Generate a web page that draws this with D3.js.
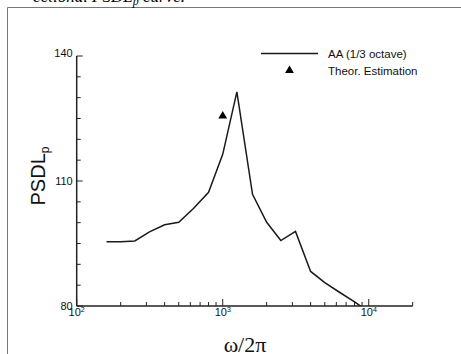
<!DOCTYPE html>
<html>
<head>
<meta charset="utf-8">
<script src="https://cdn.jsdelivr.net/npm/d3@7"></script>
<style>
  body { margin: 0; background: #fff; }
  svg { display: block; }
</style>
</head>
<body>
<div class="canvas"></div>
<script>
// 1/3 octave band centre frequencies and PSDL levels
const freqs = [160, 200, 250, 315, 400, 500, 630, 800, 1000, 1250, 1600, 2000, 2500, 3150, 4000, 5000, 6300, 8000, 10000];
const levels = [95.4, 95.4, 95.6, 97.8, 99.5, 100.1, 103.4, 107.3, 116.4, 131.4, 106.8, 100.1, 95.7, 97.9, 88.3, 85.6, 83.3, 81.0, 78.6];

// theoretical estimate
const theorFreq = [1000];
const theorLevel = [125.6];

const yTicks = [80, 110, 140];
const xTicks = [100, 1000, 10000];

const dims = { width: 461, height: 354 };

// plot box in pixels
const plot = { left: 76.7, right: 412.7, top: 56, bottom: 306 };

const svg = d3.select('.canvas')
    .append('svg')
    .attr('width', dims.width)
    .attr('height', dims.height);

// page frame + clipped caption from the paper above
svg.append('path')
    .attr('d', `M7.5,${dims.height} V7.5 H${dims.width}`)
    .attr('fill', 'none')
    .attr('stroke', '#777')
    .attr('stroke-width', 1);

const cap = svg.append('text')
    .attr('x', 185).attr('y', 2)
    .attr('text-anchor', 'end')
    .attr('font-family', 'Liberation Serif, serif')
    .attr('font-style', 'italic')
    .attr('font-size', 17)
    .attr('fill', '#000');
cap.append('tspan').text('ectional PSDL');
cap.append('tspan').attr('font-size', 12).attr('dy', 3).text('p');
cap.append('tspan').attr('dy', -3).text(' curve.');

// scales
const x = d3.scaleLog().domain([100, 20000]).range([plot.left, plot.right]);
const y = d3.scaleLinear().domain([80, 140]).range([plot.bottom, plot.top]);

const axisColor = '#222';

// y axis, ticks pointing inward
const yAxis = svg.append('g').attr('transform', `translate(${plot.left},0)`);
yAxis.append('line')
    .attr('y1', plot.top).attr('y2', plot.bottom)
    .attr('stroke', axisColor).attr('stroke-width', 1.5);
yAxis.selectAll('line.minor')
    .data(d3.range(80, 141, 5))
    .enter().append('line')
    .attr('class', 'minor')
    .attr('x1', 0)
    .attr('x2', d => yTicks.includes(d) ? 6 : 4)
    .attr('y1', d => y(d)).attr('y2', d => y(d))
    .attr('stroke', axisColor).attr('stroke-width', 1);
yAxis.selectAll('text')
    .data(yTicks)
    .enter().append('text')
    .attr('x', -4)
    .attr('y', d => y(d))
    .attr('dy', d => d === 140 ? '0.1em' : '0.35em')
    .attr('text-anchor', 'end')
    .attr('font-family', 'Liberation Sans, Arial, sans-serif')
    .attr('font-size', 11)
    .attr('fill', '#111')
    .text(d => d);

// x axis (log), ticks pointing inward
const minorX = [];
[100, 1000, 10000].forEach(dec => {
    for (let k = 1; k <= 9; k++) {
        const v = dec * k;
        if (v <= 20000) minorX.push(v);
    }
});
const xAxis = svg.append('g').attr('transform', `translate(0,${plot.bottom})`);
xAxis.append('line')
    .attr('x1', plot.left).attr('x2', plot.right)
    .attr('stroke', axisColor).attr('stroke-width', 1.5);
xAxis.selectAll('line.tick')
    .data(minorX)
    .enter().append('line')
    .attr('class', 'tick')
    .attr('x1', d => x(d)).attr('x2', d => x(d))
    .attr('y1', 0)
    .attr('y2', d => xTicks.includes(d) ? -7 : -4)
    .attr('stroke', axisColor).attr('stroke-width', 1);
const xl = xAxis.selectAll('text')
    .data(xTicks)
    .enter().append('text')
    .attr('x', d => x(d))
    .attr('y', 10)
    .attr('text-anchor', 'middle')
    .attr('font-family', 'Liberation Sans, Arial, sans-serif')
    .attr('font-size', 11)
    .attr('fill', '#111');
xl.append('tspan').text('10');
xl.append('tspan')
    .attr('font-size', 7)
    .attr('dy', -4)
    .text(d => Math.round(Math.log10(d)));

// axis titles
const yt = svg.append('text')
    .attr('transform', `translate(45,${(plot.top + plot.bottom) / 2 - 5}) rotate(-90)`)
    .attr('text-anchor', 'middle')
    .attr('font-family', 'Liberation Sans, Arial, sans-serif')
    .attr('font-size', 20)
    .attr('fill', '#111');
yt.append('tspan').text('PSDL');
yt.append('tspan').attr('font-size', 12).attr('dy', 4).text('p');

svg.append('text')
    .attr('x', 245).attr('y', 352)
    .attr('text-anchor', 'middle')
    .attr('font-family', 'Liberation Serif, Times New Roman, serif')
    .attr('font-size', 22)
    .attr('fill', '#111')
    .text('\u03c9/2\u03c0');

// clip the curve at the axes
svg.append('clipPath').attr('id', 'plotclip')
    .append('rect')
    .attr('x', plot.left).attr('y', plot.top)
    .attr('width', plot.right - plot.left)
    .attr('height', plot.bottom - plot.top);

const line = d3.line()
    .x((d, i) => x(freqs[i]))
    .y(d => y(d));

svg.append('path')
    .attr('clip-path', 'url(#plotclip)')
    .attr('d', line(levels))
    .attr('fill', 'none')
    .attr('stroke', '#1a1a1a')
    .attr('stroke-width', 1.5)
    .attr('stroke-linejoin', 'miter');

const tri = d3.symbol().type(d3.symbolTriangle).size(34);

svg.selectAll('path.theor')
    .data(theorFreq)
    .enter().append('path')
    .attr('class', 'theor')
    .attr('transform', (d, i) => `translate(${x(d)},${y(theorLevel[i])})`)
    .attr('d', tri)
    .attr('fill', '#000');

// legend
const legend = svg.append('g').attr('font-family', 'Liberation Sans, Arial, sans-serif')
    .attr('font-size', 11.5).attr('fill', '#111');
legend.append('line')
    .attr('x1', 261).attr('x2', 318)
    .attr('y1', 53.5).attr('y2', 53.5)
    .attr('stroke', '#1a1a1a').attr('stroke-width', 1.5);
legend.append('text').attr('x', 328).attr('y', 57.5).text('AA (1/3 octave)');
legend.append('path')
    .attr('transform', 'translate(289.5,70.5)')
    .attr('d', tri)
    .attr('fill', '#000');
legend.append('text').attr('x', 328).attr('y', 75).text('Theor. Estimation');
</script>
</body>
</html>
